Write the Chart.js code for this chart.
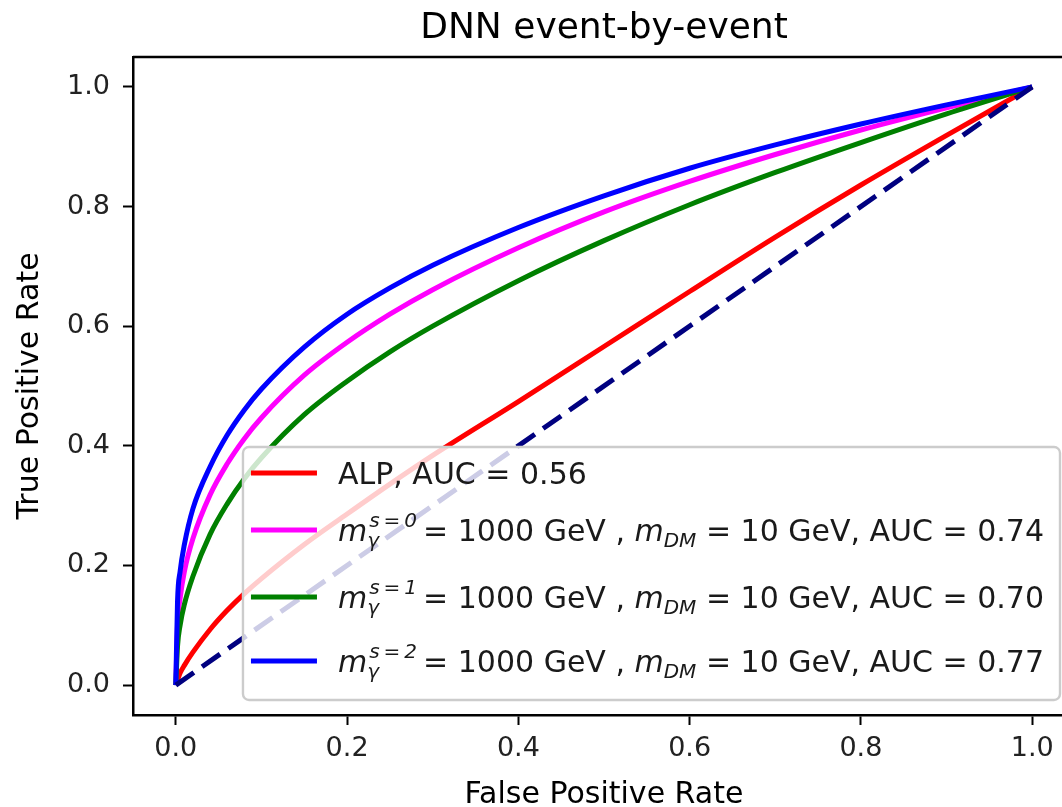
<!DOCTYPE html>
<html>
<head>
<meta charset="utf-8">
<title>DNN event-by-event</title>
<script src="https://cdn.jsdelivr.net/npm/chart.js@4.4.0/dist/chart.umd.min.js"></script>
<style>
  html, body { margin: 0; padding: 0; background: #fff; overflow: hidden; }
  #wrap { width: 1120px; height: 830px; }
</style>
</head>
<body>
<div id="wrap"><canvas id="roc" width="1120" height="830"></canvas></div>
<script>
// ROC curves: false positive rate / true positive rate per sample
const fprGrid = [0, 0.002, 0.005, 0.01, 0.02, 0.04, 0.06, 0.08, 0.1, 0.15, 0.2, 0.25, 0.3, 0.4, 0.5, 0.6, 0.7, 0.8, 0.9, 1];

const alpTpr = [0, 0.008, 0.02, 0.033, 0.055, 0.093, 0.125, 0.153, 0.178, 0.235, 0.286, 0.336, 0.384, 0.474, 0.566, 0.658, 0.749, 0.836, 0.919, 1];
const s0Tpr  = [0, 0.10, 0.145, 0.19, 0.245, 0.318, 0.37, 0.412, 0.447, 0.518, 0.573, 0.62, 0.661, 0.731, 0.791, 0.842, 0.887, 0.928, 0.965, 1];
const s1Tpr  = [0, 0.065, 0.10, 0.135, 0.182, 0.252, 0.303, 0.345, 0.38, 0.452, 0.508, 0.557, 0.60, 0.676, 0.743, 0.803, 0.857, 0.907, 0.955, 1];
const s2Tpr  = [0, 0.14, 0.19, 0.235, 0.295, 0.365, 0.418, 0.46, 0.495, 0.565, 0.62, 0.664, 0.702, 0.765, 0.818, 0.864, 0.903, 0.938, 0.97, 1];

const chanceFpr = [0, 1];
const chanceTpr = [0, 1];

const aucValues = ['0.56', '0.74', '0.70', '0.77'];
const xTicks = [0, 0.2, 0.4, 0.6, 0.8, 1.0];
const yTicks = [0, 0.2, 0.4, 0.6, 0.8, 1.0];

const FONT = 'DejaVu Sans';
const TITLE = 'DNN event-by-event';

function toPoints(xs, ys) {
  return xs.map((x, i) => ({ x: x, y: ys[i] }));
}

// legend label pieces: [text, style]
function massLabel(s, auc) {
  return [
    ['m', 'i'],
    ['s\u2009=\u2009' + s, 'sup'],
    ['\u03b3', 'sub'],
    ['\u2009= 1000 GeV , ', 'n'],
    ['m', 'i'],
    ['DM', 'sub'],
    [' = 10 GeV, AUC = ' + auc, 'n']
  ];
}

const legendLabels = [
  [['ALP, AUC = ' + aucValues[0], 'n']],
  massLabel('0', aucValues[1]),
  massLabel('1', aucValues[2]),
  massLabel('2', aucValues[3])
];

function segFont(style) {
  if (style === 'n') return '30px ' + FONT;
  if (style === 'i') return 'italic 30px ' + FONT;
  return 'italic 20px ' + FONT;
}

function runWidth(ctx, runs) {
  let x = 0, supStart = null;
  runs.forEach(([t, st]) => {
    ctx.font = segFont(st);
    const w = ctx.measureText(t).width;
    if (st === 'sub' && supStart !== null) {
      x = Math.max(x, supStart + w);
      supStart = null;
    } else {
      if (st === 'sup') supStart = x;
      x += w + (st === 'sup' ? 2 : 0);
    }
  });
  return x;
}

function drawRun(ctx, runs, x0, base) {
  let x = x0, supStart = null;
  runs.forEach(([t, st]) => {
    ctx.font = segFont(st);
    const w = ctx.measureText(t).width;
    if (st === 'sup') {
      supStart = x;
      ctx.fillText(t, x + 2, base - 14);
      x += w + 2;
    } else if (st === 'sub') {
      const sx = supStart !== null ? supStart : x;
      ctx.fillText(t, sx, base + 6);
      x = Math.max(x, sx + w);
      supStart = null;
    } else {
      ctx.fillText(t, x, base);
      x += w;
    }
  });
}

// title over the plot box, top/right spines and the boxed legend
const frameAndLegend = {
  id: 'frameAndLegend',
  afterDatasetsDraw(chart) {
    const { ctx, chartArea: a } = chart;
    ctx.save();
    ctx.strokeStyle = '#000';
    ctx.lineWidth = 2.5;
    ctx.beginPath();
    ctx.moveTo(a.left, a.top);
    ctx.lineTo(a.right, a.top);
    ctx.lineTo(a.right, a.bottom);
    ctx.stroke();

    ctx.fillStyle = '#000';
    ctx.font = '36px ' + FONT;
    ctx.textAlign = 'center';
    ctx.textBaseline = 'middle';
    ctx.fillText(TITLE, (a.left + a.right) / 2, 29);

    const rowOffsets = [26, 83, 150, 214];
    const boxH = 253;
    const right = a.right - 15;
    const bottom = a.bottom - 15;
    const top = bottom - boxH;
    const textW = Math.max(...legendLabels.map(r => runWidth(ctx, r)));
    const left = right - (8 + 66 + 21 + textW + 16);

    ctx.beginPath();
    ctx.roundRect(left, top, right - left, boxH, 6);
    ctx.fillStyle = 'rgba(255,255,255,0.8)';
    ctx.fill();
    ctx.strokeStyle = '#cccccc';
    ctx.lineWidth = 2.4;
    ctx.stroke();

    ctx.textAlign = 'left';
    ctx.textBaseline = 'alphabetic';
    legendLabels.forEach((runs, i) => {
      const ds = chart.data.datasets[i];
      const y = top + rowOffsets[i];
      ctx.strokeStyle = ds.borderColor;
      ctx.lineWidth = ds.borderWidth;
      ctx.beginPath();
      ctx.moveTo(left + 8, y);
      ctx.lineTo(left + 74, y);
      ctx.stroke();
      ctx.fillStyle = '#1a1a1a';
      drawRun(ctx, runs, left + 95, y + 11);
    });
    ctx.restore();
  }
};

const lineStyle = { borderWidth: 5, pointRadius: 0, fill: false, cubicInterpolationMode: 'monotone' };

new Chart(document.getElementById('roc'), {
  type: 'line',
  data: {
    datasets: [
      Object.assign({ data: toPoints(fprGrid, alpTpr), borderColor: '#ff0000', order: 4 }, lineStyle),
      Object.assign({ data: toPoints(fprGrid, s0Tpr), borderColor: '#ff00ff', order: 3 }, lineStyle),
      Object.assign({ data: toPoints(fprGrid, s1Tpr), borderColor: '#008000', order: 2 }, lineStyle),
      Object.assign({ data: toPoints(fprGrid, s2Tpr), borderColor: '#0000ff', order: 1 }, lineStyle),
      Object.assign({ data: toPoints(chanceFpr, chanceTpr), borderColor: '#000080', borderDash: [22, 10], order: 0 }, lineStyle)
    ]
  },
  options: {
    responsive: false,
    animation: false,
    layout: { padding: { left: 0, right: 45, top: 57, bottom: 17 } },
    plugins: {
      legend: { display: false },
      tooltip: { enabled: false },
      title: { display: false }
    },
    scales: {
      x: {
        type: 'linear',
        min: -0.05,
        max: 1.05,
        afterBuildTicks: s => { s.ticks = xTicks.map(v => ({ value: v })); },
        afterFit: s => { s.height = 98; },
        ticks: {
          color: '#222',
          padding: 8,
          maxRotation: 0,
          font: { family: FONT, size: 27 },
          callback: v => v.toFixed(1)
        },
        grid: { drawOnChartArea: false, drawTicks: true, tickLength: 10, tickWidth: 2, tickColor: '#000' },
        border: { display: true, color: '#000', width: 2.5 },
        title: {
          display: true,
          text: 'False Positive Rate',
          color: '#000',
          font: { family: FONT, size: 30 },
          padding: { top: 0, bottom: 0 }
        }
      },
      y: {
        type: 'linear',
        min: -0.05,
        max: 1.05,
        afterBuildTicks: s => { s.ticks = yTicks.map(v => ({ value: v })); },
        afterFit: s => { s.width = 133; },
        ticks: {
          color: '#222',
          padding: 13,
          font: { family: FONT, size: 27 },
          callback: v => v.toFixed(1)
        },
        grid: { drawOnChartArea: false, drawTicks: true, tickLength: 10, tickWidth: 2, tickColor: '#000' },
        border: { display: true, color: '#000', width: 2.5 },
        title: {
          display: true,
          text: 'True Positive Rate',
          color: '#000',
          font: { family: FONT, size: 30 },
          padding: { top: 12, bottom: 0 }
        }
      }
    }
  },
  plugins: [frameAndLegend]
});
</script>
</body>
</html>
